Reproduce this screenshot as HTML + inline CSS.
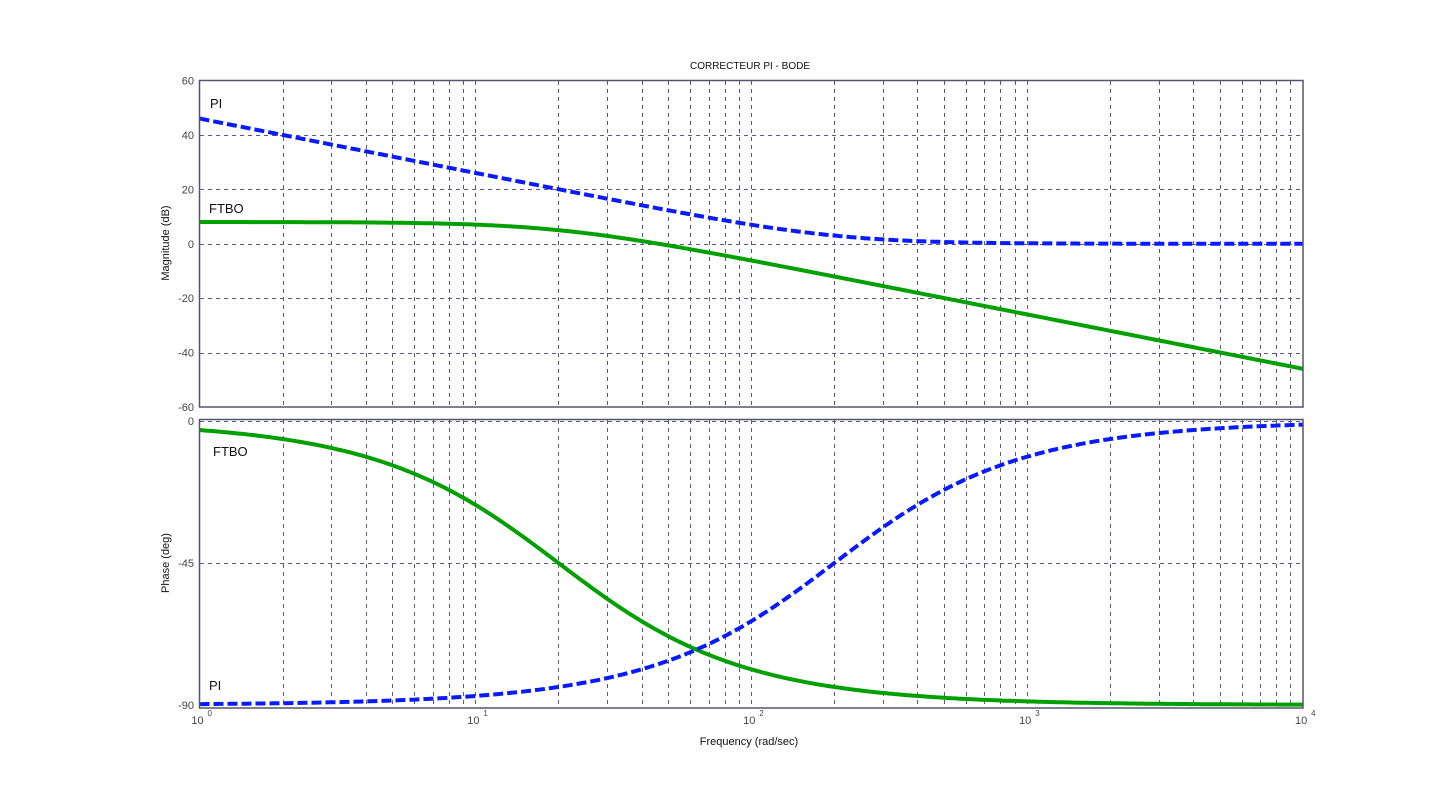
<!DOCTYPE html>
<html><head><meta charset="utf-8"><style>
body{margin:0;background:#fff;}
svg{display:block;font-family:"Liberation Sans",sans-serif;}
</style></head><body>
<svg id="s" width="1440" height="796" xmlns="http://www.w3.org/2000/svg">
<g id="grid" stroke="#5a5a80" stroke-width="1" stroke-dasharray="4,4" fill="none"></g>
<g id="curves" fill="none" stroke-width="4"></g>
<rect x="199.5" y="80.5" width="1103.5" height="326.5" fill="none" stroke="#55556a" stroke-width="1.5"/>
<rect x="199.5" y="419.5" width="1103.5" height="288.5" fill="none" stroke="#55556a" stroke-width="1.5"/>
<g id="ticks" font-size="11" fill="#444"></g>
<text x="750" y="69" font-size="10" text-anchor="middle" fill="#111">CORRECTEUR PI - BODE</text>
<text x="749" y="745" font-size="11" text-anchor="middle" fill="#111">Frequency  (rad/sec)</text>
<text transform="translate(169,243) rotate(-90)" font-size="11" text-anchor="middle" fill="#111">Magnitude (dB)</text>
<text transform="translate(169,563) rotate(-90)" font-size="11" text-anchor="middle" fill="#111">Phase (deg)</text>
<text x="210" y="108" font-size="13" fill="#111">PI</text>
<text x="209" y="213" font-size="13" fill="#111">FTBO</text>
<text x="213" y="456" font-size="13" fill="#111">FTBO</text>
<text x="209" y="690" font-size="13" fill="#111">PI</text>
</svg>
<script>
const NS="http://www.w3.org/2000/svg";
const X0=199.5,DEC=275.9;
const xw=w=>X0+Math.log10(w)*DEC;
const ym=d=>80+(60-d)*326.5/120+0.5;
const yp=p=>421+(-p)*142/45;
const g=document.getElementById('grid'),c=document.getElementById('curves'),t=document.getElementById('ticks');
function el(p,tag,a,txt){const e=document.createElementNS(NS,tag);for(const k in a)e.setAttribute(k,a[k]);if(txt!==undefined)e.textContent=txt;p.appendChild(e);return e;}
for(let d=0;d<4;d++)for(let m=1;m<10;m++){if(d==0&&m==1)continue;const x=Math.round(xw(m*Math.pow(10,d)))+0.5;
el(g,'line',{x1:x,x2:x,y1:81,y2:407});el(g,'line',{x1:x,x2:x,y1:420,y2:708});}
for(const d of [40,20,0,-20,-40]){const y=Math.round(ym(d))+0.5;el(g,'line',{x1:200,x2:1303,y1:y,y2:y});}
for(const p of [0,-45]){const y=Math.round(yp(p))+0.5;el(g,'line',{x1:200,x2:1303,y1:y,y2:y});}
for(const d of [60,40,20,0,-20,-40,-60])el(t,'text',{x:194,y:ym(d)+4,'text-anchor':'end'},d);
for(const p of [0,-45,-90])el(t,'text',{x:194,y:yp(p)+4,'text-anchor':'end'},p);
for(let d=0;d<=4;d++){const x=xw(Math.pow(10,d));el(t,'text',{x:x-2,y:724,'text-anchor':'middle'},'10');el(t,'text',{x:x+8,y:716,'font-size':'8'},d);}
function path(f,col,dash){let s='';for(let i=0;i<=400;i++){const w=Math.pow(10,4*i/400);const [x,y]=[xw(w),f(w)];s+=(i?'L':'M')+x.toFixed(1)+','+y.toFixed(1);}
const a={d:s,stroke:col};if(dash)a['stroke-dasharray']=dash;el(c,'path',a);}
const K=Math.pow(10,8/20),wc=20,wi=200;
path(w=>ym(20*Math.log10(K/Math.sqrt(1+(w/wc)**2))),'#00a000');
path(w=>ym(20*Math.log10(Math.sqrt(1+(wi/w)**2))),'#0a1aff','10,4');
path(w=>yp(-Math.atan(w/wc)*180/Math.PI),'#00a000');
path(w=>yp(-90+Math.atan(w/wi)*180/Math.PI),'#0a1aff','10,4');
</script>
</body></html>
